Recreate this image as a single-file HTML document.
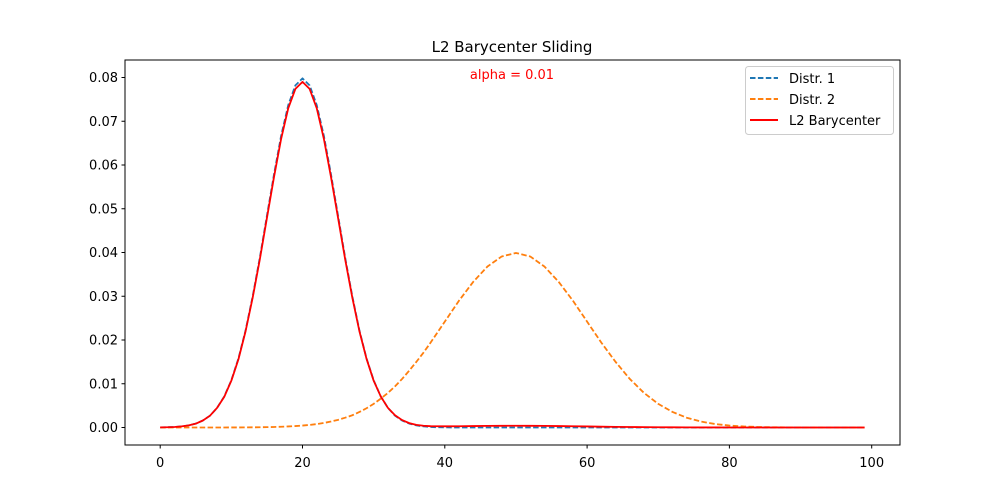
<!DOCTYPE html>
<html><head><meta charset="utf-8">
<style>
body{margin:0;background:#fff;}
svg{display:block;font-family:"DejaVu Sans","Liberation Sans",sans-serif;}
</style></head>
<body>
<svg id="chart" width="1000" height="500" viewBox="0 0 1000 500">
<rect width="1000" height="500" fill="#fff"/>
<text x="512" y="52" text-anchor="middle" font-size="15">L2 Barycenter Sliding</text>
<text x="512" y="79" text-anchor="middle" font-size="13" fill="red">alpha = 0.01</text>
<g id="plot"></g>
<rect x="125" y="60" width="775" height="385" fill="none" stroke="#000" stroke-width="1"/>
<g>
<rect x="745.5" y="66.5" width="148" height="68" rx="3" fill="#fff" fill-opacity="0.8" stroke="#ccc"/>
<line x1="750" y1="78" x2="778" y2="78" stroke="#1f77b4" stroke-width="2" stroke-dasharray="5.5,2.4"/>
<text x="789" y="83" font-size="13">Distr. 1</text>
<line x1="750" y1="99" x2="778" y2="99" stroke="#ff7f0e" stroke-width="2" stroke-dasharray="5.5,2.4"/>
<text x="789" y="104" font-size="13">Distr. 2</text>
<line x1="750" y1="120" x2="778" y2="120" stroke="red" stroke-width="2"/>
<text x="789" y="125" font-size="13">L2 Barycenter</text>
</g>
</svg>
<script>
const xs=[0,1,2,3,4,5,6,7,8,9,10,11,12,13,14,15,16,17,18,19,20,21,22,23,24,25,26,27,28,29,30,31,32,33,34,35,36,37,38,39,40,42,44,46,48,50,52,54,56,58,60,62,64,66,68,70,72,74,76,78,80,82,84,86,88,90,92,94,96,98,99];
const distr1=[0.00003,0.00006,0.00012,0.00025,0.00048,0.00089,0.0016,0.0027,0.0045,0.0071,0.0108,0.0158,0.0222,0.0300,0.0388,0.0484,0.0579,0.0667,0.0737,0.0782,0.0798,0.0782,0.0737,0.0667,0.0579,0.0484,0.0388,0.0300,0.0222,0.0158,0.0108,0.0071,0.0045,0.0027,0.0016,0.00089,0.00048,0.00025,0.00012,0.00006,0.00003,0,0,0,0,0,0,0,0,0,0,0,0,0,0,0,0,0,0,0,0,0,0,0,0,0,0,0,0,0,0];
const distr2=[0,0,0,0,0,0,0,0,0,0,0.000013,0.000018,0.00003,0.00004,0.00006,0.00008,0.00012,0.00017,0.00024,0.00033,0.00044,0.00059,0.00079,0.00104,0.00136,0.00175,0.00224,0.0028,0.00355,0.0044,0.0054,0.0066,0.0079,0.0094,0.0111,0.0130,0.0150,0.0171,0.0194,0.0218,0.0242,0.0290,0.0333,0.0368,0.0391,0.0399,0.0391,0.0368,0.0333,0.0290,0.0242,0.0194,0.0150,0.0111,0.0079,0.0054,0.00355,0.00224,0.00136,0.00079,0.00044,0.00024,0.00012,0.00006,0.00003,0.000013,0,0,0,0,0];
const barycenter=[0.00003,0.00006,0.00012,0.00025,0.00048,0.00088,0.0016,0.0027,0.0045,0.0070,0.0107,0.0156,0.0220,0.0297,0.0384,0.0479,0.0573,0.0660,0.0730,0.0774,0.0790,0.0774,0.0730,0.0660,0.0573,0.0479,0.0384,0.0297,0.0220,0.0157,0.0107,0.0071,0.0045,0.0028,0.0017,0.0010,0.0006,0.0004,0.0003,0.00028,0.00027,0.00029,0.00033,0.00037,0.00039,0.0004,0.00039,0.00037,0.00033,0.00029,0.00024,0.00019,0.00015,0.00011,0.00008,0.00005,0.00004,0.00002,0.00001,0.00001,0,0,0,0,0,0,0,0,0,0,0];
const xTicks=[0,20,40,60,80,100];
const yTicks=[0,0.01,0.02,0.03,0.04,0.05,0.06,0.07,0.08];
const yTickLabels=["0.00","0.01","0.02","0.03","0.04","0.05","0.06","0.07","0.08"];

const NS="http://www.w3.org/2000/svg";
const X=v=>160.2+v*7.115;
const Y=v=>427.5-v*4375;
const g=document.getElementById('plot');
function mk(tag,attrs){const e=document.createElementNS(NS,tag);for(const k in attrs)e.setAttribute(k,attrs[k]);g.appendChild(e);return e;}

xTicks.forEach(t=>{
  const l=mk('line',{x1:X(t),x2:X(t),y1:445,y2:448.5,stroke:'#000'});
  
  
  const tx=mk('text',{x:X(t),y:467,'text-anchor':'middle','font-size':'13'});
  tx.textContent=t;
  
  
});
yTicks.forEach((t,i)=>{
  const l=mk('line',{x1:121.5,x2:125,y1:Y(t),y2:Y(t),stroke:'#000'});
  
  
  const tx=mk('text',{x:118,y:Y(t)+4.5,'text-anchor':'end','font-size':'13'});
  tx.textContent=yTickLabels[i];
  
  
});
function line(vals,color,dash,name){
  const d=xs.map((x,i)=>(i?'L':'M')+X(x).toFixed(2)+','+Y(vals[i]).toFixed(2)).join('');
  const p=mk('path',{d:d,fill:'none',stroke:color,'stroke-width':'1.8','stroke-linejoin':'round'});
  if(dash)p.setAttribute('stroke-dasharray',dash);
  
  
}
line(distr1,'#1f77b4','5.5,2.4','distr-1-line');
line(distr2,'#ff7f0e','5.5,2.4','distr-2-line');
line(barycenter,'red',null,'barycenter-line');
</script>
</body></html>
